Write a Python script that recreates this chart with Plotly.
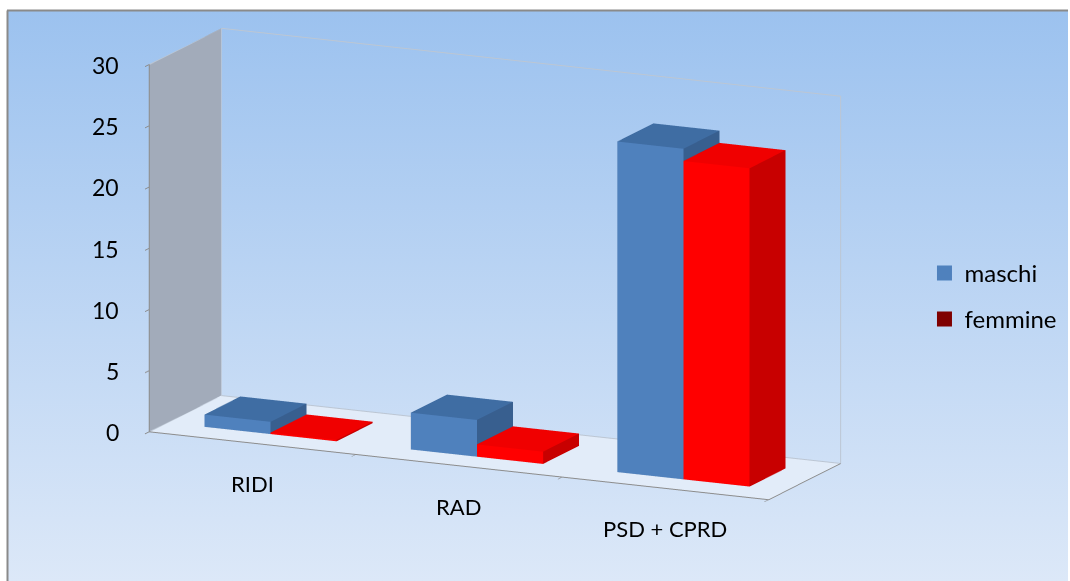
import base64
import plotly.graph_objects as go

# Chart data
categories = ["RIDI", "RAD", "PSD + CPRD"]
maschi = [1, 3, 27]
femmine = [0, 1, 26]
series_names = ["maschi", "femmine"]
z_ticks = [0, 5, 10, 15, 20, 25, 30]

# Face colours: front, top, sides; legend swatch
BLUE = {"front": "#4F81BD", "top": "#3F6DA3", "side": "#385F8F", "legend": "#4F81BD"}
RED = {"front": "#FF0000", "top": "#F00000", "side": "#C80000", "legend": "#7F0000"}

BAR_W = 0.32          # width of one bar in category units
DEPTH = (0.25, 0.75)  # front/back of the bars along the depth axis
X_RANGE = [-0.5, len(categories) - 0.5]
Y_RANGE = [0, 1]
Z_RANGE = [0, 30]
FONT = "Lato, 'Open Sans', sans-serif"
EDGE = "#8C8C8C"


def box_mesh(values, offset, colors, name):
    xs, ys, zs, ii, jj, kk, fc = [], [], [], [], [], [], []
    for c, v in enumerate(values):
        h = max(v, 0.12)  # a zero bar still shows its flat top
        x0 = c + offset
        x1 = x0 + BAR_W
        y0, y1 = DEPTH
        base = len(xs)
        for z in (0, h):
            for (x, y) in ((x0, y0), (x1, y0), (x1, y1), (x0, y1)):
                xs.append(x)
                ys.append(y)
                zs.append(z)
        quads = [
            ((0, 1, 5, 4), colors["front"]),
            ((1, 2, 6, 5), colors["side"]),
            ((4, 5, 6, 7), colors["top"]),
            ((3, 0, 4, 7), colors["side"]),
            ((2, 3, 7, 6), colors["side"]),
            ((0, 1, 2, 3), colors["side"]),
        ]
        for (a, b, cc, d), col in quads:
            for tri in ((a, b, cc), (a, cc, d)):
                ii.append(base + tri[0])
                jj.append(base + tri[1])
                kk.append(base + tri[2])
                fc.append(col)
    return go.Mesh3d(
        x=xs, y=ys, z=zs, i=ii, j=jj, k=kk, facecolor=fc,
        flatshading=True, name=name, showlegend=False, hoverinfo="skip",
        lighting=dict(ambient=1, diffuse=0, specular=0, roughness=1, fresnel=0),
    )


fig = go.Figure()
fig.add_trace(box_mesh(maschi, -BAR_W, BLUE, series_names[0]))
fig.add_trace(box_mesh(femmine, 0.0, RED, series_names[1]))

# outline of the back wall, the left wall top and the wall/floor junctions
xa, xb = X_RANGE
ya, yb = Y_RANGE
za, zb = Z_RANGE
edges = [
    ([xa, xb, xb], [yb, yb, yb], [zb, zb, za]),   # back wall top and right edges
    ([xa, xb], [yb, yb], [za, za]),               # back wall / floor junction
    ([xa, xa], [ya, yb], [zb, zb]),               # left wall top
    ([xa, xa], [yb, yb], [za, zb]),               # back corner
    ([xa, xa], [ya, yb], [za, za]),               # left wall / floor junction
]
for ex, ey, ez in edges:
    fig.add_trace(go.Scatter3d(x=ex, y=ey, z=ez, mode="lines", showlegend=False,
                               hoverinfo="skip", line=dict(color="#BCC6D3", width=2)))

# legend entries with square swatches
for nm, col in zip(series_names, (BLUE["legend"], RED["legend"])):
    fig.add_trace(go.Scatter3d(
        x=[None], y=[None], z=[None], mode="markers", name=nm, legendgroup=nm,
        marker=dict(symbol="square", size=15, color=col),
    ))

annotations = []
for v in z_ticks:
    annotations.append(dict(x=xa, y=ya, z=v, text=str(v), showarrow=False,
                            xanchor="right", yanchor="middle", xshift=-28,
                            font=dict(family=FONT, size=23, color="#000000")))
for c, lab in enumerate(categories):
    annotations.append(dict(x=c, y=ya, z=za, text=lab, showarrow=False,
                            xanchor="center", yanchor="middle", yshift=-40,
                            font=dict(family=FONT, size=22, color="#000000")))

axis_common = dict(
    showgrid=False, zeroline=False, showline=True, linecolor=EDGE, linewidth=2,
    showspikes=False, title=dict(text=""), showticklabels=False,
    ticks="outside", tickcolor=EDGE, ticklen=8, tickwidth=2,
)

gradient_svg = (
    "<svg xmlns='http://www.w3.org/2000/svg' width='100' height='100' "
    "preserveAspectRatio='none'><defs><linearGradient id='g' x1='0' y1='0' x2='0' y2='1'>"
    "<stop offset='0' stop-color='#9CC2EF'/><stop offset='1' stop-color='#DCE8F8'/>"
    "</linearGradient></defs><rect width='100' height='100' fill='url(#g)'/></svg>"
)
gradient_uri = "data:image/svg+xml;base64," + base64.b64encode(gradient_svg.encode()).decode()

W, H = 1070, 581
fig.update_layout(
    width=W, height=H,
    margin=dict(l=0, r=0, t=0, b=0),
    paper_bgcolor="#FFFFFF",
    font=dict(family=FONT, size=24, color="#000000"),
    showlegend=True,
    legend=dict(x=0.864, y=0.49, yanchor="middle", bgcolor="rgba(0,0,0,0)",
                font=dict(family=FONT, size=24), tracegroupgap=12, itemwidth=30),
    scene=dict(
        domain=dict(x=[0.0, 0.925], y=[0.104, 0.986]),
        bgcolor="rgba(0,0,0,0)",
        aspectmode="manual",
        aspectratio=dict(x=2.67, y=0.665, z=1.476),
        camera=dict(eye=dict(x=0.822, y=-1.762, z=0.47), center=dict(x=0, y=0, z=0),
                    up=dict(x=0, y=0, z=1), projection=dict(type="orthographic")),
        dragmode=False,
        annotations=annotations,
        xaxis=dict(axis_common, range=X_RANGE, tickmode="array",
                   tickvals=[c + 0.5 for c in range(-1, len(categories))],
                   showbackground=True, backgroundcolor="#A2ABBA"),
        yaxis=dict(axis_common, range=Y_RANGE, ticks="", showbackground=False),
        zaxis=dict(axis_common, range=Z_RANGE, tickmode="array", tickvals=z_ticks,
                   showbackground=True, backgroundcolor="#E2ECF9"),
    ),
    images=[dict(
        source=gradient_uri, xref="paper", yref="paper", x=8 / W, y=1 - 11 / H,
        sizex=1060 / W, sizey=1 - 11 / H, xanchor="left", yanchor="top",
        sizing="stretch", layer="below",
    )],
    shapes=[
        dict(type="line", xref="paper", yref="paper", x0=7.5 / W, x1=7.5 / W, y0=0,
             y1=1 - 10.5 / H, line=dict(color="#8A8A8A", width=2), layer="below"),
        dict(type="line", xref="paper", yref="paper", x0=7 / W, x1=1068 / W,
             y0=1 - 10.5 / H, y1=1 - 10.5 / H, line=dict(color="#8A8A8A", width=2),
             layer="below"),
    ],
)

fig.write_html("out.html")
